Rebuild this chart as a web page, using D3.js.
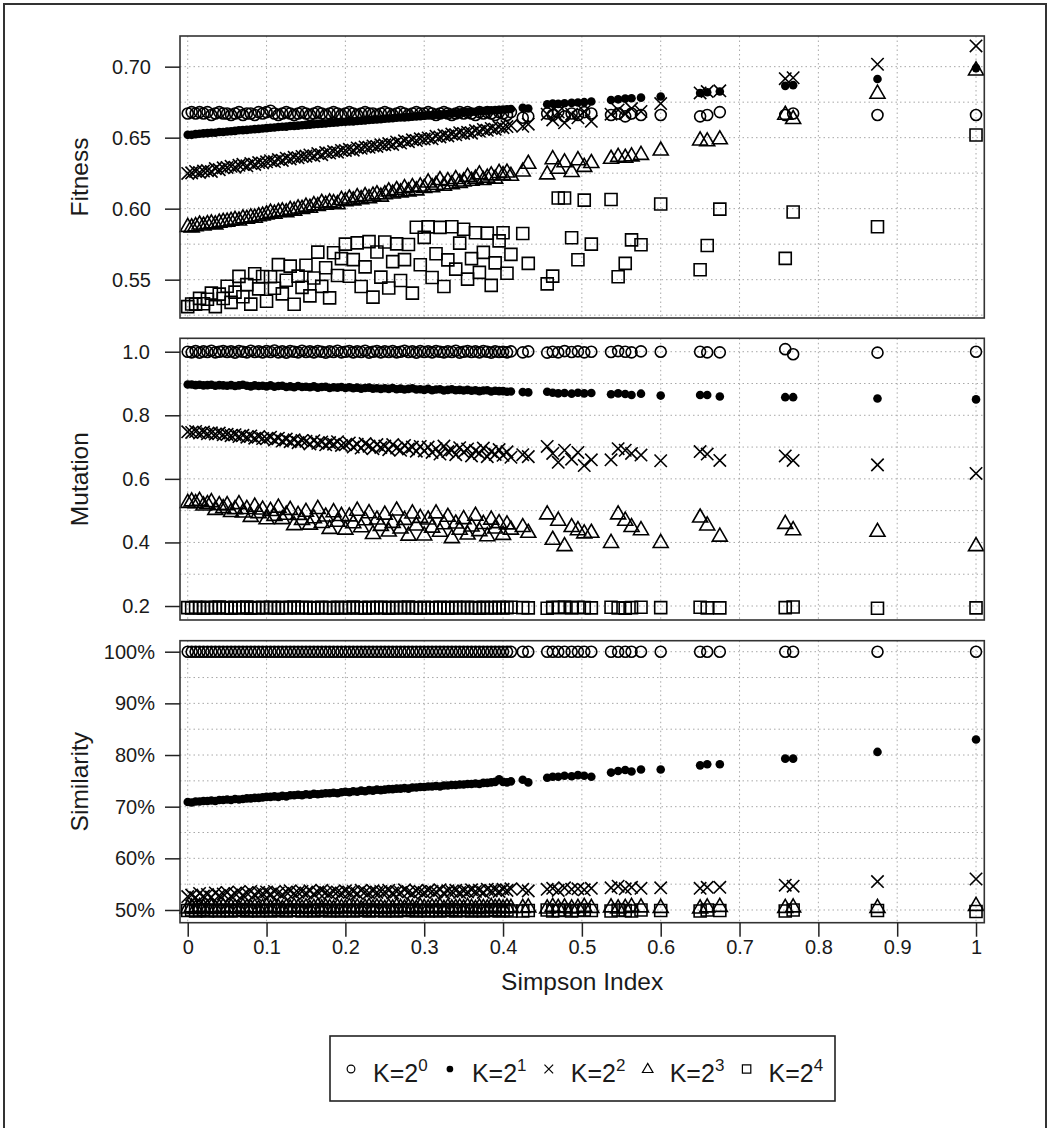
<!DOCTYPE html>
<html>
<head>
<meta charset="utf-8">
<script src="https://cdn.jsdelivr.net/npm/d3@7"></script>
<style>
body { margin: 0; background: #fff; }
svg { display: block; font-family: "Liberation Sans", Arial, sans-serif; }
</style>
</head>
<body>
<div id="chart"></div>
<script>
// Simpson index of every run (same runs for each K)
var simpson = [0,0.005,0.01,0.015,0.02,0.025,0.03,0.035,0.04,0.045,
  0.05,0.055,0.06,0.065,0.07,0.075,0.08,0.085,0.09,0.095,
  0.1,0.105,0.11,0.115,0.12,0.125,0.13,0.135,0.14,0.145,
  0.15,0.155,0.16,0.165,0.17,0.175,0.18,0.185,0.19,0.195,
  0.2,0.205,0.21,0.215,0.22,0.225,0.23,0.235,0.24,0.245,
  0.25,0.255,0.26,0.265,0.27,0.275,0.28,0.285,0.29,0.295,
  0.3,0.305,0.31,0.315,0.32,0.325,0.33,0.335,0.34,0.345,
  0.35,0.355,0.36,0.365,0.37,0.375,0.38,0.385,0.39,0.395,
  0.4,0.405,0.41,
  0.425,0.432,0.456,0.463,0.47,0.478,0.487,0.495,0.503,0.512,
  0.537,0.546,0.555,0.563,0.575,0.6,0.65,0.659,0.675,0.758,0.768,0.875,1];

// Fitness
var fitK1 = [0.667,0.668,0.667,0.668,0.667,0.668,0.666,0.667,0.668,0.667,
  0.667,0.666,0.667,0.668,0.666,0.667,0.667,0.666,0.668,0.667,
  0.668,0.669,0.667,0.666,0.667,0.668,0.667,0.666,0.667,0.668,
  0.667,0.666,0.667,0.668,0.667,0.666,0.667,0.668,0.667,0.666,
  0.667,0.668,0.667,0.666,0.667,0.668,0.667,0.667,0.666,0.667,
  0.668,0.667,0.666,0.667,0.668,0.667,0.666,0.667,0.668,0.667,
  0.667,0.668,0.667,0.666,0.667,0.668,0.667,0.666,0.667,0.668,
  0.667,0.668,0.667,0.666,0.668,0.667,0.668,0.667,0.666,0.668,
  0.667,0.666,0.668,
  0.664,0.665,0.667,0.666,0.668,0.665,0.667,0.666,0.668,0.667,
  0.666,0.667,0.665,0.667,0.666,0.666,0.665,0.666,0.668,0.666,0.667,0.666,0.666];
var fitK2 = [0.652,0.652,0.6525,0.6528,0.653,0.6532,0.6535,0.6535,0.654,0.654,
  0.6543,0.6545,0.6548,0.6552,0.6553,0.6555,0.6558,0.656,0.6562,0.6565,
  0.6567,0.657,0.6572,0.6575,0.6577,0.6578,0.6582,0.6583,0.6585,0.6587,
  0.659,0.6592,0.6594,0.6597,0.6598,0.66,0.6603,0.6605,0.6607,0.661,
  0.6612,0.6614,0.6615,0.6618,0.662,0.6622,0.6625,0.6627,0.6628,0.663,
  0.6633,0.6635,0.6637,0.664,0.6642,0.6643,0.6646,0.6648,0.665,0.6652,
  0.6655,0.6657,0.6659,0.6661,0.6664,0.6665,0.6668,0.667,0.6672,0.6675,
  0.6677,0.6679,0.6681,0.6683,0.6686,0.6688,0.669,0.6692,0.6694,0.6696,
  0.6698,0.67,0.6702,
  0.671,0.6705,0.6735,0.674,0.6738,0.6742,0.6745,0.6748,0.675,0.6755,
  0.6765,0.677,0.6775,0.6778,0.6782,0.679,0.6815,0.682,0.6825,0.6865,0.687,0.6913,0.699];
var fitK4 = [0.6248,0.6252,0.6262,0.6255,0.6265,0.6268,0.6262,0.6282,0.6275,0.6288,
  0.629,0.6298,0.6292,0.6305,0.6312,0.6302,0.6318,0.6312,0.6325,0.6322,
  0.633,0.6338,0.6332,0.6346,0.634,0.6355,0.635,0.6362,0.6358,0.6368,
  0.637,0.6378,0.6372,0.6388,0.638,0.6395,0.6392,0.6402,0.6398,0.641,
  0.641,0.6418,0.6412,0.6428,0.6425,0.6435,0.6432,0.6442,0.6438,0.645,
  0.645,0.6458,0.6452,0.647,0.6462,0.6478,0.6472,0.6485,0.648,0.6492,
  0.649,0.6498,0.6492,0.651,0.6505,0.6518,0.6512,0.6525,0.652,0.6535,
  0.653,0.6538,0.6532,0.655,0.6545,0.6558,0.6552,0.6565,0.656,0.6575,
  0.657,0.6578,0.6585,
  0.658,0.6595,0.6665,0.6625,0.668,0.6605,0.6665,0.664,0.6685,0.6615,
  0.6665,0.6695,0.667,0.6705,0.6685,0.674,0.6815,0.6825,0.683,0.6915,0.6922,0.7017,0.7146];
var fitK8 = [0.5875,0.5872,0.588,0.5892,0.5885,0.5895,0.59,0.5893,0.5905,0.591,
  0.5912,0.5918,0.5925,0.592,0.5935,0.5932,0.5942,0.594,0.595,0.5955,
  0.5963,0.5975,0.5968,0.598,0.5985,0.5978,0.5995,0.599,0.6005,0.6002,
  0.6018,0.601,0.6028,0.6022,0.6045,0.6032,0.6048,0.6042,0.6035,0.6065,
  0.6056,0.6075,0.6062,0.6085,0.607,0.6092,0.6078,0.6095,0.6105,0.6088,
  0.6105,0.6125,0.611,0.6135,0.6118,0.6148,0.6125,0.6155,0.6132,0.616,
  0.615,0.6188,0.6155,0.6172,0.6205,0.6165,0.6198,0.6175,0.6212,0.6185,
  0.6195,0.6228,0.62,0.6215,0.6245,0.6205,0.6222,0.6238,0.6215,0.6255,
  0.624,0.6258,0.6235,
  0.6265,0.632,0.6245,0.6352,0.6285,0.633,0.6262,0.6345,0.6298,0.6325,
  0.6355,0.6368,0.6362,0.6372,0.6382,0.6413,0.6484,0.6478,0.6492,0.6665,0.6635,0.6813,0.6977];
var fitK16 = [0.531,0.5329,0.5328,0.5368,0.533,0.5362,0.5405,0.531,0.5398,0.5367,
  0.5454,0.534,0.5412,0.5523,0.538,0.5465,0.5328,0.5542,0.5435,0.5522,
  0.5348,0.5521,0.5439,0.5606,0.54,0.5496,0.5595,0.5327,0.5525,0.5446,
  0.5602,0.5386,0.5512,0.5694,0.5453,0.5584,0.5372,0.5689,0.5529,0.5648,
  0.575,0.5524,0.5641,0.5759,0.5452,0.559,0.5768,0.5377,0.5695,0.5518,
  0.5765,0.5441,0.5627,0.5752,0.5494,0.5641,0.5748,0.5405,0.5869,0.5605,
  0.5798,0.5872,0.5515,0.5682,0.5868,0.5452,0.5639,0.5873,0.5574,0.5757,
  0.5855,0.5504,0.5648,0.583,0.5551,0.5692,0.5828,0.546,0.5618,0.5773,
  0.583,0.5545,0.5678,
  0.5825,0.5615,0.547,0.5525,0.6075,0.6075,0.5795,0.564,0.606,0.575,
  0.6065,0.552,0.5615,0.578,0.5746,0.6033,0.557,0.5741,0.5997,0.565,0.5977,0.5873,0.6519];

// Mutation
var mutK1 = [1.000,0.998,1.002,0.997,1.001,0.999,1.003,0.998,1.000,1.002,
  0.999,1.001,0.997,1.002,1.000,0.998,1.003,0.999,1.001,0.998,
  1.002,0.999,1.004,0.998,1.001,0.997,1.002,1.000,0.998,1.003,
  0.999,1.001,0.998,1.002,1.000,0.997,1.001,0.999,1.003,0.998,
  1.000,1.002,0.998,1.001,0.999,1.003,0.997,1.000,1.002,0.998,
  1.001,0.999,1.002,0.998,1.000,1.003,0.999,1.001,0.997,1.002,
  0.999,1.001,0.998,1.002,1.000,0.998,1.001,0.999,1.003,0.997,
  1.000,1.002,0.999,1.001,0.998,1.002,1.000,0.997,1.001,0.999,
  1.000,0.998,1.001,
  0.998,1.001,0.997,1.000,0.998,1.002,0.999,1.001,0.998,1.000,
  0.999,1.002,1.000,0.998,1.001,1.000,1.000,0.998,0.998,1.008,0.992,0.997,1.000];
var mutK2 = [0.897,0.897,0.895,0.896,0.894,0.895,0.896,0.893,0.895,0.894,
  0.893,0.895,0.892,0.894,0.896,0.893,0.891,0.894,0.892,0.893,
  0.891,0.894,0.890,0.892,0.893,0.889,0.891,0.888,0.892,0.889,
  0.890,0.888,0.891,0.887,0.889,0.890,0.886,0.888,0.887,0.889,
  0.886,0.888,0.885,0.887,0.884,0.886,0.887,0.884,0.885,0.883,
  0.885,0.883,0.886,0.882,0.884,0.881,0.883,0.885,0.881,0.882,
  0.880,0.883,0.879,0.881,0.882,0.878,0.880,0.882,0.879,0.880,
  0.878,0.880,0.877,0.879,0.876,0.878,0.879,0.875,0.877,0.876,
  0.876,0.874,0.875,
  0.873,0.872,0.874,0.871,0.869,0.870,0.868,0.871,0.869,0.870,
  0.866,0.869,0.867,0.864,0.868,0.862,0.864,0.864,0.859,0.857,0.857,0.853,0.850];
var mutK4 = [0.748,0.746,0.749,0.744,0.747,0.742,0.745,0.741,0.744,0.739,
  0.740,0.736,0.739,0.733,0.737,0.731,0.735,0.728,0.733,0.727,
  0.726,0.731,0.722,0.728,0.719,0.725,0.717,0.723,0.714,0.721,
  0.718,0.710,0.720,0.712,0.716,0.707,0.714,0.709,0.717,0.705,
  0.707,0.713,0.700,0.709,0.697,0.711,0.703,0.695,0.708,0.699,
  0.703,0.692,0.708,0.697,0.690,0.705,0.694,0.700,0.687,0.702,
  0.688,0.700,0.683,0.695,0.678,0.703,0.686,0.691,0.676,0.698,
  0.684,0.694,0.672,0.689,0.680,0.697,0.670,0.686,0.677,0.692,
  0.674,0.685,0.668,
  0.676,0.670,0.702,0.680,0.652,0.690,0.662,0.683,0.642,0.660,
  0.660,0.695,0.690,0.680,0.675,0.657,0.686,0.678,0.658,0.672,0.658,0.644,0.617];
var mutK8 = [0.526,0.5308,0.525,0.5326,0.518,0.5224,0.5283,0.504,0.519,0.5094,
  0.519,0.4972,0.5065,0.522,0.4958,0.5069,0.482,0.514,0.4939,0.5051,
  0.4745,0.5006,0.4852,0.511,0.4748,0.4889,0.5039,0.456,0.4882,0.4725,
  0.498,0.4576,0.4775,0.507,0.4626,0.4831,0.4442,0.4967,0.4668,0.4849,
  0.442,0.4837,0.4618,0.5014,0.4495,0.4713,0.4936,0.428,0.4738,0.4537,
  0.489,0.436,0.463,0.502,0.4453,0.4727,0.4231,0.4927,0.4548,0.479,
  0.4235,0.4738,0.4482,0.4929,0.4353,0.459,0.4822,0.415,0.4612,0.4416,
  0.475,0.4265,0.4515,0.4855,0.4371,0.4598,0.4212,0.4734,0.4456,0.4623,
  0.4255,0.4585,0.442,
  0.450,0.432,0.490,0.410,0.470,0.390,0.450,0.440,0.430,0.432,
  0.400,0.490,0.470,0.450,0.440,0.400,0.480,0.455,0.420,0.460,0.440,0.435,0.390];
var mutK16 = [0.195,0.194,0.196,0.195,0.193,0.196,0.194,0.195,0.197,0.194,
  0.195,0.193,0.196,0.194,0.195,0.197,0.193,0.195,0.194,0.196,
  0.194,0.196,0.195,0.193,0.196,0.194,0.195,0.197,0.194,0.195,
  0.196,0.194,0.193,0.195,0.196,0.194,0.195,0.193,0.196,0.195,
  0.194,0.195,0.197,0.194,0.195,0.193,0.196,0.194,0.195,0.196,
  0.195,0.193,0.195,0.196,0.194,0.195,0.197,0.194,0.195,0.193,
  0.196,0.194,0.195,0.194,0.196,0.195,0.193,0.195,0.196,0.194,
  0.195,0.196,0.194,0.195,0.193,0.196,0.195,0.194,0.195,0.196,
  0.194,0.195,0.196,
  0.195,0.194,0.193,0.196,0.195,0.197,0.194,0.196,0.195,0.194,
  0.196,0.194,0.193,0.195,0.196,0.195,0.196,0.194,0.194,0.195,0.197,0.193,0.194];

// Similarity (%)
var simK1 = [100,100,100,100,100,100,100,100,100,100,
  100,100,100,100,100,100,100,100,100,100,
  100,100,100,100,100,100,100,100,100,100,
  100,100,100,100,100,100,100,100,100,100,
  100,100,100,100,100,100,100,100,100,100,
  100,100,100,100,100,100,100,100,100,100,
  100,100,100,100,100,100,100,100,100,100,
  100,100,100,100,100,100,100,100,100,100,
  100,100,100,
  100,100,100,100,100,100,100,100,100,100,
  100,100,100,100,100,100,100,100,100,100,100,100,100];
var simK2 = [70.9,70.8,71.0,71.0,71.1,71.1,71.2,71.1,71.3,71.3,
  71.4,71.3,71.5,71.4,71.5,71.6,71.6,71.7,71.7,71.8,
  71.9,71.9,72.0,71.9,72.1,72.0,72.2,72.2,72.3,72.2,
  72.4,72.3,72.5,72.4,72.5,72.6,72.6,72.7,72.6,72.8,
  72.9,72.8,73.0,72.9,73.1,73.0,73.2,73.1,73.3,73.2,
  73.3,73.4,73.4,73.5,73.5,73.6,73.5,73.7,73.7,73.8,
  73.8,73.9,73.9,74.0,73.9,74.1,74.1,74.2,74.2,74.3,
  74.3,74.4,74.4,74.5,74.4,74.6,74.6,74.7,74.8,75.3,
  74.8,74.7,74.9,
  75.2,74.7,75.6,75.8,75.8,76.0,75.9,76.1,76.0,75.8,
  76.6,76.9,77.1,76.8,77.2,77.2,78.0,78.2,78.2,79.3,79.3,80.6,83.0];
var simK4 = [52.6,52.9,52.4,53.2,52.7,53.0,52.5,53.3,52.8,53.1,
  53.4,52.7,53.2,53.5,52.9,53.3,53.6,53.0,53.4,53.2,
  53.5,53.1,53.6,53.3,53.0,53.5,53.7,53.2,53.4,53.6,
  53.3,53.7,53.1,53.5,53.8,53.4,53.2,53.6,53.5,53.3,
  53.7,53.4,53.6,53.2,53.8,53.5,53.3,53.7,53.4,53.6,
  53.5,53.8,53.3,53.6,53.4,53.9,53.5,53.2,53.7,53.6,
  53.4,53.8,53.6,53.5,53.9,53.3,53.7,53.6,53.8,53.4,
  53.7,53.5,53.9,53.6,53.8,53.4,54.0,53.7,53.9,53.6,
  54.0,53.8,54.1,
  54.0,53.7,54.0,54.2,53.8,54.3,54.0,54.1,53.9,54.2,
  54.3,54.6,54.1,54.4,54.2,54.3,54.2,54.4,54.4,54.8,54.6,55.5,56.0];
var simK8 = [50.4,50.6,50.3,50.7,50.5,50.4,50.6,50.3,50.5,50.7,
  50.4,50.6,50.5,50.3,50.7,50.5,50.4,50.6,50.3,50.5,
  50.7,50.4,50.6,50.5,50.3,50.6,50.4,50.7,50.5,50.4,
  50.6,50.3,50.5,50.7,50.4,50.6,50.5,50.3,50.6,50.5,
  50.4,50.7,50.5,50.6,50.3,50.5,50.7,50.4,50.6,50.5,
  50.3,50.6,50.4,50.7,50.5,50.4,50.6,50.5,50.3,50.7,
  50.5,50.4,50.6,50.5,50.7,50.3,50.6,50.4,50.5,50.6,
  50.4,50.7,50.5,50.3,50.6,50.5,50.4,50.7,50.5,50.6,
  50.4,50.6,50.5,
  50.5,50.6,50.4,50.7,50.5,50.6,50.4,50.5,50.7,50.5,
  50.6,50.4,50.5,50.7,50.6,50.5,50.4,50.6,50.7,50.5,50.6,50.5,50.9];
var simK16 = [49.9,50.0,49.8,49.9,50.1,49.8,50.0,49.9,49.8,50.0,
  49.9,49.8,50.0,49.9,50.1,49.8,49.9,50.0,49.8,49.9,
  50.0,49.8,49.9,50.1,49.9,49.8,50.0,49.9,50.0,49.8,
  49.9,50.0,49.8,49.9,50.1,49.9,49.8,50.0,49.9,49.8,
  50.0,49.9,49.8,50.0,49.9,50.1,49.8,49.9,50.0,49.9,
  49.8,50.0,49.9,49.8,50.0,49.9,50.1,49.9,49.8,50.0,
  49.9,49.8,50.0,49.9,49.8,50.0,49.9,50.1,49.8,49.9,
  50.0,49.9,49.8,50.0,49.9,49.8,50.0,49.9,50.1,49.8,
  49.9,50.0,49.8,
  49.8,49.9,50.0,49.8,49.9,50.0,49.8,49.9,50.0,49.9,
  49.8,50.0,49.9,49.8,50.0,49.9,49.8,50.0,49.9,49.8,50.0,49.9,49.7];

// ticks and legend
var xTicks = [0,0.1,0.2,0.3,0.4,0.5,0.6,0.7,0.8,0.9,1];
var xTickLabels = ["0","0.1","0.2","0.3","0.4","0.5","0.6","0.7","0.8","0.9","1"];
var fitTicks = [0.55,0.60,0.65,0.70];
var mutTicks = [0.2,0.4,0.6,0.8,1.0];
var simTicks = [50,60,70,80,90,100];
var kExponents = ["0","1","2","3","4"];
var shapes = ["circle","dot","cross","triangle","square"];

var W = 1049, H = 1128;
var ink = "#000";

var svg = d3.select("#chart").append("svg")
    .attr("width", W)
    .attr("height", H);

svg.append("rect").attr("width", W).attr("height", H).attr("fill", "#fff");

// outer frame
svg.append("rect")
    .attr("x", 4).attr("y", 4)
    .attr("width", 1042).attr("height", 1140)
    .attr("fill", "none").attr("stroke", "#333").attr("stroke-width", 2);

var x = d3.scaleLinear().domain([-0.0098, 1.0105]).range([180, 984.3]);

function markerPath(shape, k) {
    if (shape == "circle") {
        var r = 5.5 * k;
        return "M" + r + ",0A" + r + "," + r + " 0 1,1 " + (-r) + ",0A" + r + "," + r + " 0 1,1 " + r + ",0Z";
    }
    if (shape == "dot") {
        var r2 = 4.3 * k;
        return "M" + r2 + ",0A" + r2 + "," + r2 + " 0 1,1 " + (-r2) + ",0A" + r2 + "," + r2 + " 0 1,1 " + r2 + ",0Z";
    }
    if (shape == "cross") {
        var c = 6.2 * k;
        return "M" + (-c) + "," + (-c) + "L" + c + "," + c + "M" + (-c) + "," + c + "L" + c + "," + (-c);
    }
    if (shape == "triangle") {
        return "M0," + (-8 * k) + "L" + (7.5 * k) + "," + (5 * k) + "L" + (-7.5 * k) + "," + (5 * k) + "Z";
    }
    var s = 6 * k;
    return "M" + (-s) + "," + (-s) + "h" + (2 * s) + "v" + (2 * s) + "h" + (-2 * s) + "Z";
}

function styleMarker(sel, shape) {
    if (shape == "dot") {
        sel.attr("fill", ink).attr("stroke", "none");
    } else {
        sel.attr("fill", "none").attr("stroke", ink).attr("stroke-width", 1.6);
    }
}

var panels = [
    { title: "Fitness", top: 36, bottom: 318, domain: [0.5230, 0.7216],
      ticks: fitTicks, grid: d3.range(0.525, 0.7201, 0.025), fmt: d3.format(".2f"), pad: 14,
      series: [fitK1, fitK2, fitK4, fitK8, fitK16] },
    { title: "Mutation", top: 338.3, bottom: 620, domain: [0.156, 1.0422],
      ticks: mutTicks, grid: d3.range(0.2, 1.001, 0.1), fmt: d3.format(".1f"), pad: 15,
      series: [mutK1, mutK2, mutK4, mutK8, mutK16] },
    { title: "Similarity", top: 640.7, bottom: 922.7, domain: [47.54, 102.13],
      ticks: simTicks, grid: d3.range(50, 100.01, 5), fmt: function(d) { return d + "%"; }, pad: 10,
      series: [simK1, simK2, simK4, simK8, simK16] }
];

panels.forEach(function(p, pi) {
    var y = d3.scaleLinear().domain(p.domain).range([p.bottom, p.top]);
    var g = svg.append("g");

    // dotted grid
    var grid = g.append("g")
        .attr("stroke", "#a8a8a8")
        .attr("stroke-width", 1)
        .attr("stroke-dasharray", "1.5,3");
    grid.selectAll("line.v").data(xTicks).join("line")
        .attr("class", "v")
        .attr("x1", d => x(d)).attr("x2", d => x(d))
        .attr("y1", p.top).attr("y2", p.bottom);
    grid.selectAll("line.h").data(p.grid).join("line")
        .attr("class", "h")
        .attr("x1", 180).attr("x2", 984.3)
        .attr("y1", d => y(d)).attr("y2", d => y(d));

    // points, K=2^0 first, K=2^4 last
    p.series.forEach(function(vals, si) {
        if (vals.length != simpson.length) console.warn(p.title, si, vals.length);
        var pts = g.append("g").selectAll("path")
            .data(vals.map((v, i) => [simpson[i], v]))
            .join("path")
            .attr("transform", d => "translate(" + x(d[0]) + "," + y(d[1]) + ")")
            .attr("d", markerPath(shapes[si], 1));
        styleMarker(pts, shapes[si]);
    });

    // panel box
    g.append("rect")
        .attr("x", 180).attr("y", p.top)
        .attr("width", 984.3 - 180).attr("height", p.bottom - p.top)
        .attr("fill", "none").attr("stroke", "#333").attr("stroke-width", 1.6);

    // y axis
    var ay = g.append("g")
        .attr("transform", "translate(180,0)")
        .call(d3.axisLeft(y).tickValues(p.ticks).tickSize(15).tickPadding(p.pad).tickFormat(p.fmt));
    ay.select(".domain").remove();
    ay.selectAll("line").attr("stroke", "#222").attr("stroke-width", 1.5);
    ay.selectAll("text").attr("fill", "#1a1a1a").style("font-size", "20px")
        .style("font-family", "'Liberation Sans', Arial, sans-serif");

    g.append("text")
        .attr("transform", "translate(88," + ((p.top + p.bottom) / 2) + ") rotate(-90)")
        .attr("text-anchor", "middle")
        .attr("fill", "#1a1a1a")
        .style("font-size", "24.5px")
        .text(p.title);

    // x axis only under the last panel
    if (pi == panels.length - 1) {
        var ax = g.append("g")
            .attr("transform", "translate(0," + p.bottom + ")")
            .call(d3.axisBottom(x).tickValues(xTicks).tickSize(14).tickPadding(3)
                .tickFormat((d, i) => xTickLabels[i]));
        ax.select(".domain").remove();
        ax.selectAll("line").attr("stroke", "#222").attr("stroke-width", 1.5);
        ax.selectAll("text").attr("fill", "#1a1a1a").style("font-size", "20px")
            .style("font-family", "'Liberation Sans', Arial, sans-serif");

        g.append("text")
            .attr("x", (180 + 984.3) / 2).attr("y", 990)
            .attr("text-anchor", "middle")
            .attr("fill", "#1a1a1a")
            .style("font-size", "24.5px")
            .text("Simpson Index");
    }
});

/* legend box under the panels */
var legend = svg.append("g");
legend.append("rect")
    .attr("x", 330).attr("y", 1036)
    .attr("width", 505).attr("height", 65)
    .attr("fill", "none").attr("stroke", "#222").attr("stroke-width", 1.6);

var items = legend.selectAll("g.item").data(kExponents).join("g")
    .attr("class", "item")
    .attr("transform", (d, i) => "translate(" + (351 + i * 98.9) + ",0)");

items.append("path")
    .attr("transform", "translate(0,1069)")
    .attr("d", (d, i) => markerPath(shapes[i], shapes[i] == "dot" ? 0.78 : 0.7))
    .each(function(d, i) { styleMarker(d3.select(this), shapes[i]); })
    .attr("stroke-width", 1.2);

var lt = items.append("text")
    .attr("x", 22).attr("y", 1082)
    .attr("fill", "#1a1a1a")
    .style("font-size", "25px");
lt.append("tspan").text("K=2");
lt.append("tspan").attr("dy", -11).style("font-size", "17px").text(d => d);
</script>
</body>
</html>
